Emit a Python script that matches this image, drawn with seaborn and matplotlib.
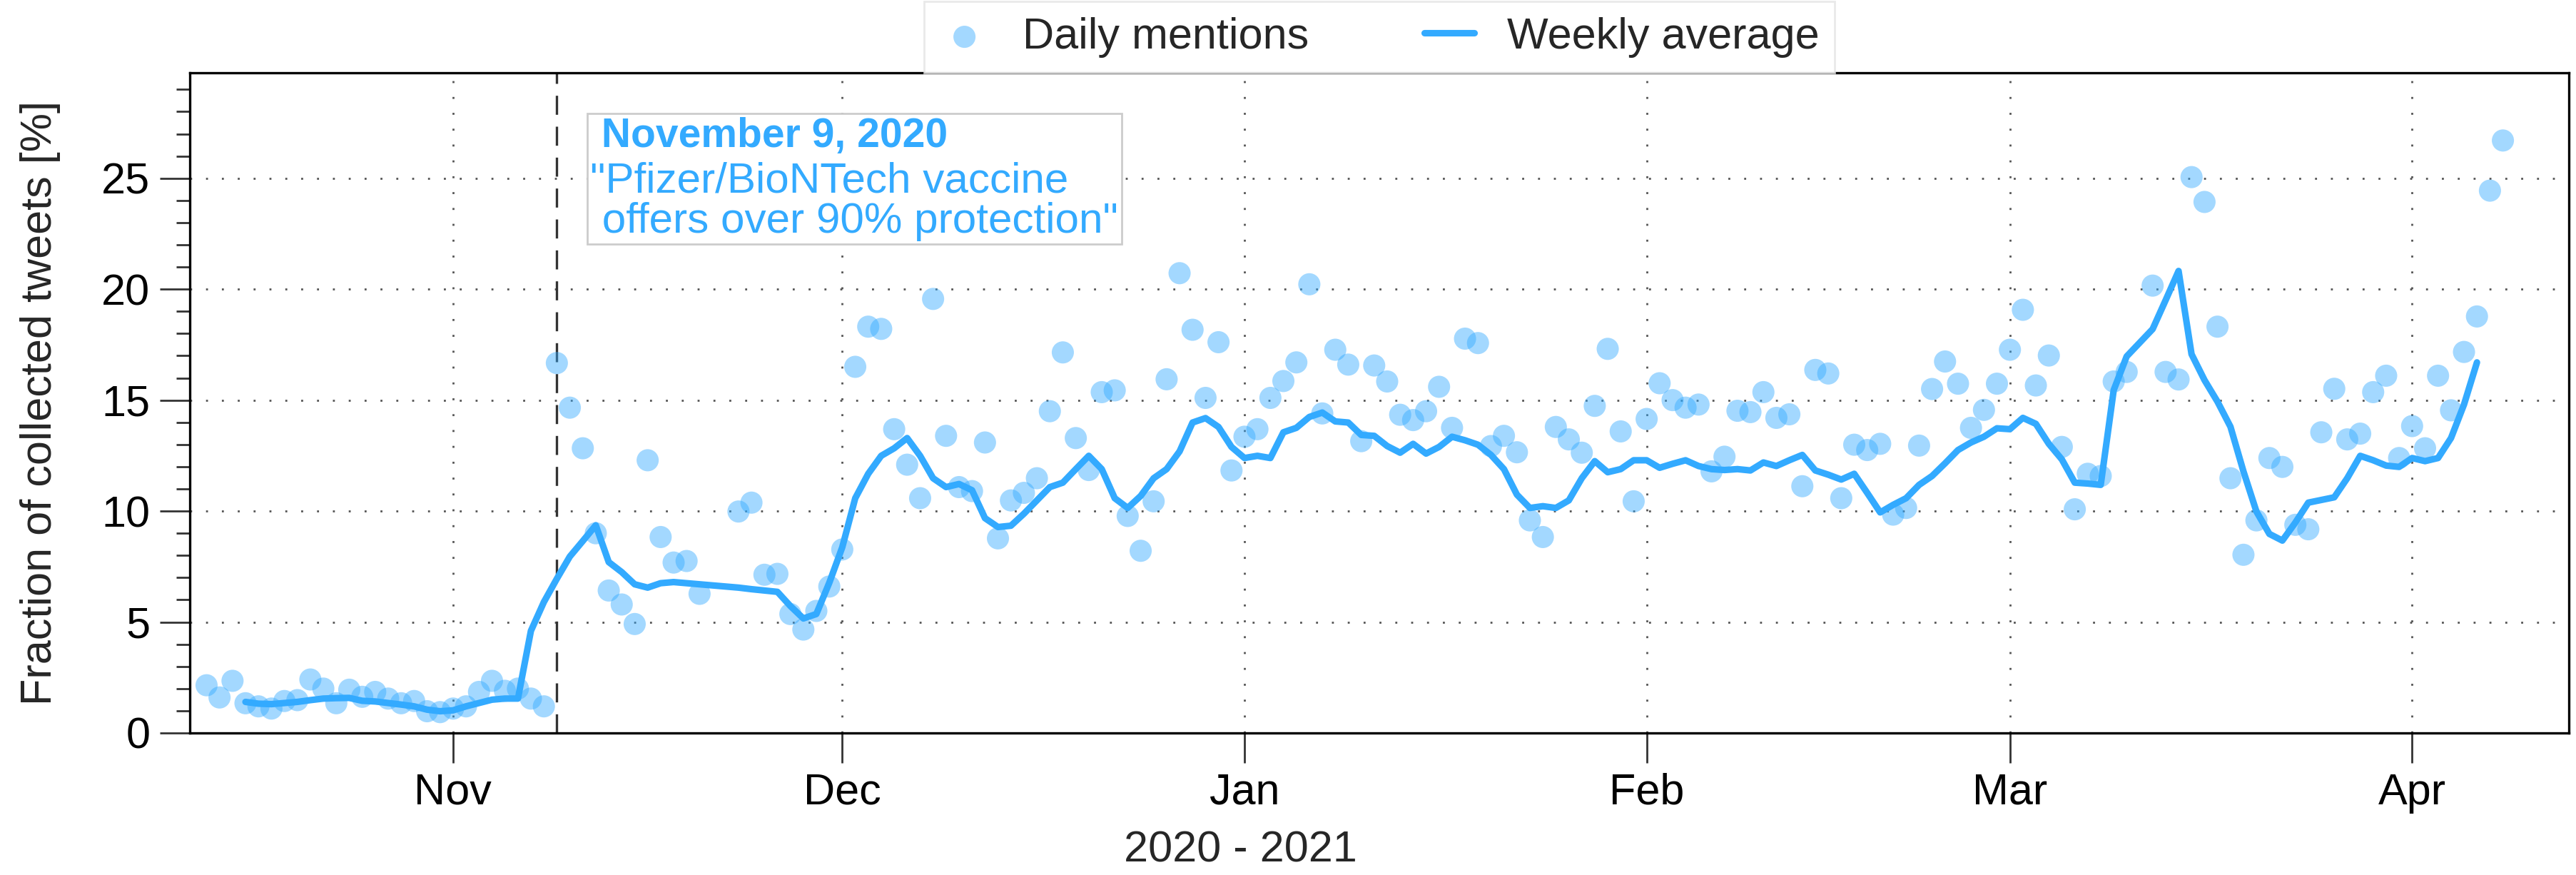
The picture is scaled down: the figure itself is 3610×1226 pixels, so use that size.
import numpy as np
import pandas as pd
import matplotlib
matplotlib.use("Agg")
import matplotlib.pyplot as plt
import matplotlib.dates as mdates
from matplotlib.ticker import MultipleLocator
from matplotlib.offsetbox import TextArea, VPacker, AnnotationBbox
import seaborn as sns

# ---- data ---------------------------------------------------------------
first_day = "2020-10-13"
last_day = "2021-04-08"
missing_days = ["2020-11-21", "2020-11-22", "2021-03-11"]
event_day = "2020-11-09"

# share of collected tweets mentioning the vaccine, per day [%]
daily_oct = [2.15, 1.6, 2.35, 1.34, 1.2, 1.1, 1.44, 1.48, 2.41, 2.0, 1.34, 1.95,
             1.63, 1.85, 1.55, 1.34, 1.44, 0.98, 0.94]
daily_nov = [1.1, 1.2, 1.85, 2.35, 1.9, 2.0, 1.55, 1.2, 16.67, 14.66, 12.83, 9.0,
             6.42, 5.79, 4.91, 12.29, 8.83, 7.68, 7.75, 6.27, 9.98, 10.38, 7.13,
             7.17, 5.36, 4.66, 5.5, 6.6]
daily_dec = [8.27, 16.5, 18.31, 18.21, 13.69, 12.09, 10.58, 19.56, 13.39, 11.08,
             10.9, 13.09, 8.77, 10.48, 10.82, 11.48, 14.5, 17.15, 13.29, 11.85,
             15.36, 15.44, 9.78, 8.21, 10.44, 15.94, 20.72, 18.17, 15.1, 17.61, 11.83]
daily_jan = [13.35, 13.69, 15.1, 15.86, 16.7, 20.22, 14.4, 17.27, 16.6, 13.15,
             16.56, 15.84, 14.34, 14.1, 14.5, 15.6, 13.75, 17.77, 17.57, 12.93,
             13.39, 12.65, 9.58, 8.83, 13.79, 13.23, 12.63, 14.74, 17.31, 13.59, 10.44]
daily_feb = [14.15, 15.76, 15.0, 14.66, 14.8, 11.79, 12.45, 14.52, 14.46, 15.36,
             14.2, 14.36, 11.12, 16.36, 16.2, 10.58, 12.99, 12.75, 13.03, 9.84,
             10.14, 12.95, 15.5, 16.74, 15.74, 13.75, 14.56, 15.74]
daily_mar = [17.27, 19.07, 15.66, 17.01, 12.89, 10.08, 11.68, 11.58, 15.84, 16.27,
             20.16, 16.27, 15.93, 25.05, 23.93, 18.31, 11.48, 8.03, 9.58, 12.39,
             11.99, 9.38, 9.18, 13.55, 15.51, 13.23, 13.49, 15.36, 16.1, 12.39]
daily_apr = [13.83, 12.83, 16.1, 14.54, 17.17, 18.77, 24.44, 26.7]

# weekly average of the same share [%]
nan = np.nan
weekly_oct = [nan, nan, nan, 1.4, 1.32, 1.3, 1.35, 1.4, 1.48, 1.55, 1.57, 1.58,
              1.45, 1.42, 1.35, 1.28, 1.2, 1.05, 0.98]
weekly_nov = [1.02, 1.2, 1.35, 1.5, 1.55, 1.55, 4.6, 5.9, 6.95, 7.95, 8.65, 9.36,
              7.7, 7.25, 6.7, 6.55, 6.75, 6.8, 6.75, 6.7, 6.55, 6.48, 6.42, 6.36,
              5.72, 5.16, 5.36, 6.77]
weekly_dec = [8.37, 10.58, 11.68, 12.49, 12.83, 13.29, 12.49, 11.48, 11.08, 11.22,
              10.94, 9.68, 9.28, 9.34, 9.88, 10.48, 11.08, 11.28, 11.89, 12.49,
              11.89, 10.58, 10.14, 10.68, 11.48, 11.89, 12.69, 13.99, 14.19, 13.79, 12.89]
weekly_jan = [12.39, 12.49, 12.39, 13.55, 13.75, 14.24, 14.44, 14.04, 13.99, 13.43,
              13.39, 12.93, 12.63, 13.03, 12.59, 12.89, 13.35, 13.19, 12.99, 12.53,
              11.89, 10.74, 10.14, 10.22, 10.14, 10.48, 11.48, 12.25, 11.75, 11.89, 12.29]
weekly_feb = [12.29, 11.95, 12.13, 12.29, 12.03, 11.89, 11.85, 11.89, 11.83, 12.19,
              12.03, 12.29, 12.53, 11.83, 11.64, 11.42, 11.68, 10.82, 9.94, 10.28,
              10.58, 11.18, 11.58, 12.15, 12.75, 13.09, 13.35, 13.73]
weekly_mar = [13.69, 14.2, 13.93, 13.03, 12.33, 11.28, 11.24, 11.18, 15.45, 16.97,
              18.2, 19.5, 20.82, 17.07, 15.9, 14.93, 13.8, 11.79, 9.98, 8.97,
              8.67, 9.48, 10.38, 10.5, 10.62, 11.48, 12.49, 12.29, 12.05, 11.99]
weekly_apr = [12.39, 12.25, 12.39, 13.29, 14.8, 16.7, nan, nan]

legend_labels = ["Daily mentions", "Weekly average"]
x_label = "2020 - 2021"
y_label = "Fraction of collected tweets [%]"
event_title = " November 9, 2020"
event_text = '"Pfizer/BioNTech vaccine\n offers over 90% protection"'

# ---- table --------------------------------------------------------------
dates = pd.date_range(first_day, last_day, freq="D")
dates = dates[~dates.isin(pd.to_datetime(missing_days))]
daily = daily_oct + daily_nov + daily_dec + daily_jan + daily_feb + daily_mar + daily_apr
weekly = weekly_oct + weekly_nov + weekly_dec + weekly_jan + weekly_feb + weekly_mar + weekly_apr
df = pd.DataFrame({"date": dates, "daily": daily, "weekly": weekly})

# ---- style --------------------------------------------------------------
BLUE = "#33aaff"
sns.set_theme(style="white")
plt.rcParams["font.family"] = ["Liberation Sans", "DejaVu Sans"]

fig = plt.figure(figsize=(18.05, 6.13), dpi=200)
ax = fig.add_axes([0.07368, 0.16232, 0.92355, 0.75448])

sns.scatterplot(data=df, x="date", y="daily", ax=ax, s=125, color=BLUE,
                alpha=0.45, edgecolor="none", linewidth=0,
                label=legend_labels[0], zorder=2)
sns.lineplot(data=df.dropna(subset=["weekly"]), x="date", y="weekly", ax=ax,
             color=BLUE, linewidth=3.3, estimator=None,
             label=legend_labels[1], zorder=3)

ax.axvline(pd.Timestamp(event_day), color="#333333", linewidth=1.2,
           linestyle=(0, (8, 5)), zorder=1)

# axes ranges and ticks
ax.set_xlim(pd.Timestamp("2020-10-11 17:00"), pd.Timestamp("2021-04-13 02:00"))
ax.set_ylim(0, 29.75)
ax.xaxis.set_major_locator(mdates.MonthLocator())
ax.xaxis.set_major_formatter(mdates.DateFormatter("%b"))
ax.yaxis.set_major_locator(MultipleLocator(5))
ax.yaxis.set_minor_locator(MultipleLocator(1))

ax.tick_params(axis="both", which="major", direction="out", length=15, width=1.0,
               color="#333333", labelsize=22, pad=5, labelcolor="black")
ax.tick_params(axis="y", which="minor", direction="out", length=7, width=1.0,
               color="#333333", left=True)
ax.tick_params(axis="x", bottom=True)
ax.tick_params(axis="y", left=True)

ax.grid(True, which="major", color="#555555", linestyle=(0, (1, 7)), linewidth=1.0)
ax.set_axisbelow(True)

for s in ax.spines.values():
    s.set_color("black")
    s.set_linewidth(1.2)
    s.set_visible(True)

ax.set_xlabel(x_label, fontsize=22)
ax.xaxis.set_label_coords(0.4415, -0.178)
ax.xaxis.label.set_verticalalignment("center")
ax.set_ylabel(y_label, fontsize=22)
ax.yaxis.set_label_coords(-0.0627, 0.5)
ax.yaxis.label.set_verticalalignment("center")

# legend above the plot
leg = ax.legend(loc="lower center", bbox_to_anchor=(0.5, 1.0), ncol=2,
                fontsize=22, frameon=True, fancybox=False, borderaxespad=0,
                borderpad=0.35, handlelength=1.15, handletextpad=0.75,
                columnspacing=2.65, markerscale=1.0)
leg.get_frame().set_edgecolor("#e4e4e4")
leg.get_frame().set_linewidth(1.0)

# event annotation box
title_area = TextArea(event_title, textprops=dict(color=BLUE, fontsize=20.5,
                                                  fontweight="bold"))
body_area = TextArea(event_text, textprops=dict(color=BLUE, fontsize=21.7,
                                                linespacing=1.03))
pack = VPacker(children=[title_area, body_area], align="left", pad=0, sep=3)
ab = AnnotationBbox(pack, (0.1683, 0.933), xycoords="axes fraction",
                    box_alignment=(0, 1), frameon=True, pad=0.15,
                    bboxprops=dict(edgecolor="#cccccc", facecolor="white",
                                   linewidth=1.0, boxstyle="square,pad=0.15"))
ab.set_zorder(4)
ax.add_artist(ab)

fig.savefig("out.png", dpi=200)
